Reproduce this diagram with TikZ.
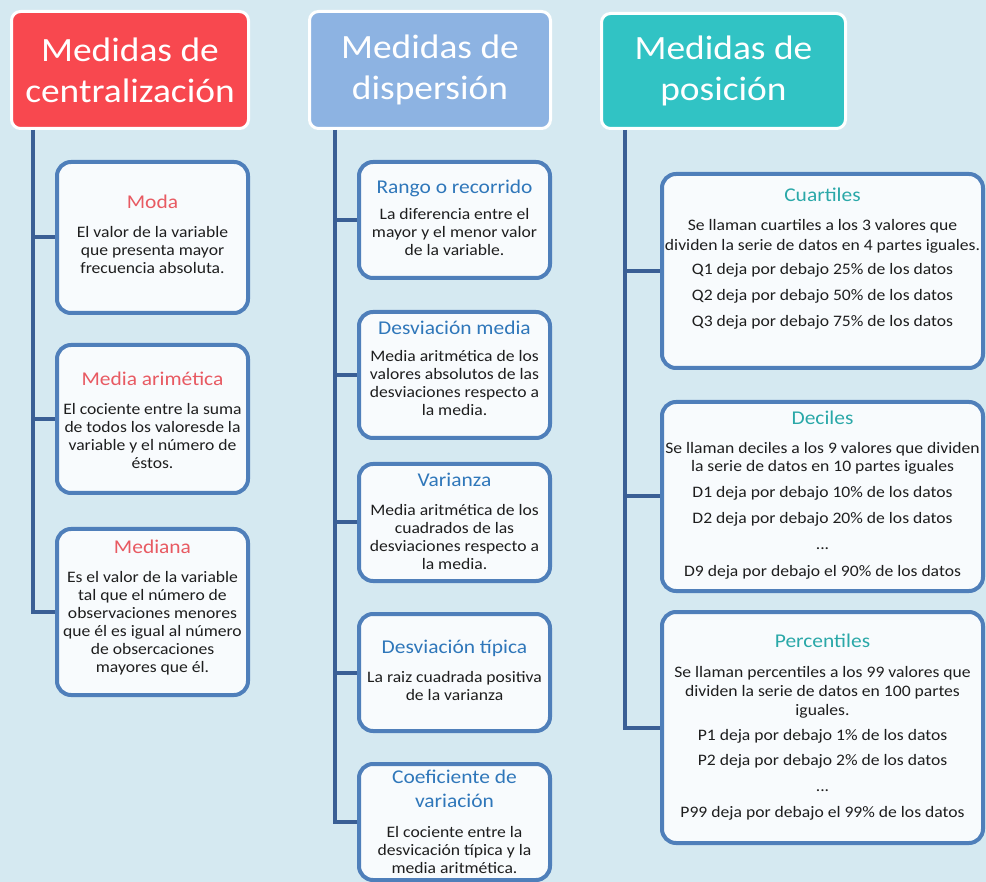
\documentclass[tikz,border=0pt]{standalone}
\usepackage{fontspec}
\setmainfont[FakeStretch=1.1]{Carlito}
\usetikzlibrary{calc}
\definecolor{bg}{HTML}{D5E9F1}
\definecolor{hred}{HTML}{F8484F}
\definecolor{hblue}{HTML}{8DB3E2}
\definecolor{hteal}{HTML}{31C3C4}
\definecolor{connc}{HTML}{3A5F95}
\definecolor{boxline}{HTML}{4F7FBA}
\definecolor{boxfill}{HTML}{F8FBFD}
\definecolor{tred}{HTML}{E85A62}
\definecolor{tblue}{HTML}{2F77BA}
\definecolor{tteal}{HTML}{2AA8A8}
\definecolor{bodytxt}{HTML}{1E1E1E}
\newcommand\tA[1]{{\color{tred}\fontsize{19.5}{24}\selectfont #1}}
\newcommand\tB[1]{{\color{tblue}\fontsize{19.5}{24}\selectfont #1}}
\newcommand\tC[1]{{\color{tteal}\fontsize{19.5}{24}\selectfont #1}}
\tikzset{
  header/.style={draw=white, line width=3pt, rounded corners=9pt, text=white,
    font=\fontsize{34}{41}\selectfont, align=center, inner sep=0pt},
  box/.style={draw=boxline, line width=4pt, rounded corners=14pt, fill=boxfill, inner sep=0pt},
  txt/.style={align=center, text=bodytxt, font=\fontsize{16}{18}\selectfont, inner sep=0pt},
  conn/.style={draw=connc, line width=4pt}
}
\begin{document}
\begin{tikzpicture}[x=1pt,y=-1pt]
\fill[bg] (0,0) rectangle (986,882);
\useasboundingbox (0,0) rectangle (986,882);
% headers
\node[header, fill=hred, minimum width=237pt, minimum height=117pt] (h1) at (130,70) {Medidas de\\centralización};
\node[header, fill=hblue, minimum width=241pt, minimum height=117pt] (h2) at (430,70) {Medidas de\\dispersión};
\node[header, fill=hteal, minimum width=244pt, minimum height=115pt] (h3) at (723.5,71) {Medidas de\\posición};
% spine coordinates
\coordinate (c1) at (33,0);
\coordinate (c2) at (335,0);
\coordinate (c3) at (625,0);
% column 1 boxes
\node[box, minimum width=191pt, minimum height=151pt] (moda) at (152.5,237.5) {};
\node[box, minimum width=191pt, minimum height=148pt] (media) at (152.5,419) {};
\node[box, minimum width=191pt, minimum height=166pt] (mediana) at (152.5,612) {};
% column 2 boxes
\node[box, minimum width=191pt, minimum height=116pt] (rango) at (454.5,220) {};
\node[box, minimum width=191pt, minimum height=126pt] (dmedia) at (454.5,375) {};
\node[box, minimum width=191pt, minimum height=117pt] (varianza) at (454.5,522.5) {};
\node[box, minimum width=191pt, minimum height=117pt] (dtipica) at (454.5,672.5) {};
\node[box, minimum width=191pt, minimum height=116pt] (coef) at (454.5,822) {};
% column 3 boxes
\node[box, minimum width=321pt, minimum height=194pt] (cuart) at (822.5,271) {};
\node[box, minimum width=321pt, minimum height=189pt] (decil) at (822.5,496.5) {};
\node[box, minimum width=321pt, minimum height=231pt] (percen) at (822.5,727.5) {};
% connectors
\draw[conn] (h1.south -| c1) |- (mediana.west);
\draw[conn] (c1 |- moda.west) -- (moda.west);
\draw[conn] (c1 |- media.west) -- (media.west);
\draw[conn] (h2.south -| c2) |- (coef.west);
\draw[conn] (c2 |- rango.west) -- (rango.west);
\draw[conn] (c2 |- dmedia.west) -- (dmedia.west);
\draw[conn] (c2 |- varianza.west) -- (varianza.west);
\draw[conn] (c2 |- dtipica.west) -- (dtipica.west);
\draw[conn] (h3.south -| c3) |- (percen.west);
\draw[conn] (c3 |- cuart.west) -- (cuart.west);
\draw[conn] (c3 |- decil.west) -- (decil.west);
% texts column 1
\node[txt] (modat) at (152.5,234) {\tA{Moda}\\[11pt]El valor de la variable\\que presenta mayor\\frecuencia absoluta.};
\node[txt] (mediat) at (152.5,420) {\tA{Media arimética}\\[11pt]El cociente entre la suma\\de todos los valoresde la\\variable y el número de\\éstos.};
\node[txt] (medianat) at (152.5,608) {\tA{Mediana}\\[11pt]Es el valor de la variable\\tal que el número de\\observaciones menores\\que él es igual al número\\de obsercaciones\\mayores que él.};
% texts column 2
\node[txt] (rangot) at (454.5,218) {\tB{Rango o recorrido}\\[8pt]La diferencia entre el\\mayor y el menor valor\\de la variable.};
\node[txt] (dmediat) at (454.5,368) {\tB{Desviación media}\\[9pt]Media aritmética de los\\valores absolutos de las\\desviaciones respecto a\\la media.};
\node[txt] (varianzat) at (454.5,521.5) {\tB{Varianza}\\[11pt]Media aritmética de los\\cuadrados de las\\desviaciones respecto a\\la media.};
\node[txt] (dtipicat) at (454.5,670.5) {\tB{Desviación típica}\\[11pt]La raiz cuadrada positiva\\de la varianza};
\node[txt] (coeft) at (454.5,822) {\tB{Coeficiente de}\\[6pt]\tB{variación}\\[12pt]El cociente entre la\\desvicación típica y la\\media aritmética.};
% texts column 3
\node[txt] (cuartt) at (822.5,259) {\tC{Cuartiles}\\[11pt]Se llaman cuartiles a los 3 valores que\\[2pt]dividen la serie de datos en 4 partes iguales.\\[6pt]Q1 deja por debajo 25\% de los datos\\[8pt]Q2 deja por debajo 50\% de los datos\\[8pt]Q3 deja por debajo 75\% de los datos};
\node[txt] (decilt) at (822.5,495) {\tC{Deciles}\\[11pt]Se llaman deciles a los 9 valores que dividen\\la serie de datos en 10 partes iguales\\[8pt]D1 deja por debajo 10\% de los datos\\[8pt]D2 deja por debajo 20\% de los datos\\[8pt]...\\[9pt]D9 deja por debajo el 90\% de los datos};
\node[txt] (percent) at (822.5,727) {\tC{Percentiles}\\[12pt]Se llaman percentiles a los 99 valores que\\[1pt]dividen la serie de datos en 100 partes\\[1pt]iguales.\\[7pt]P1 deja por debajo 1\% de los datos\\[7pt]P2 deja por debajo 2\% de los datos\\[8pt]...\\[8pt]P99 deja por debajo el 99\% de los datos};
\end{tikzpicture}
\end{document}
